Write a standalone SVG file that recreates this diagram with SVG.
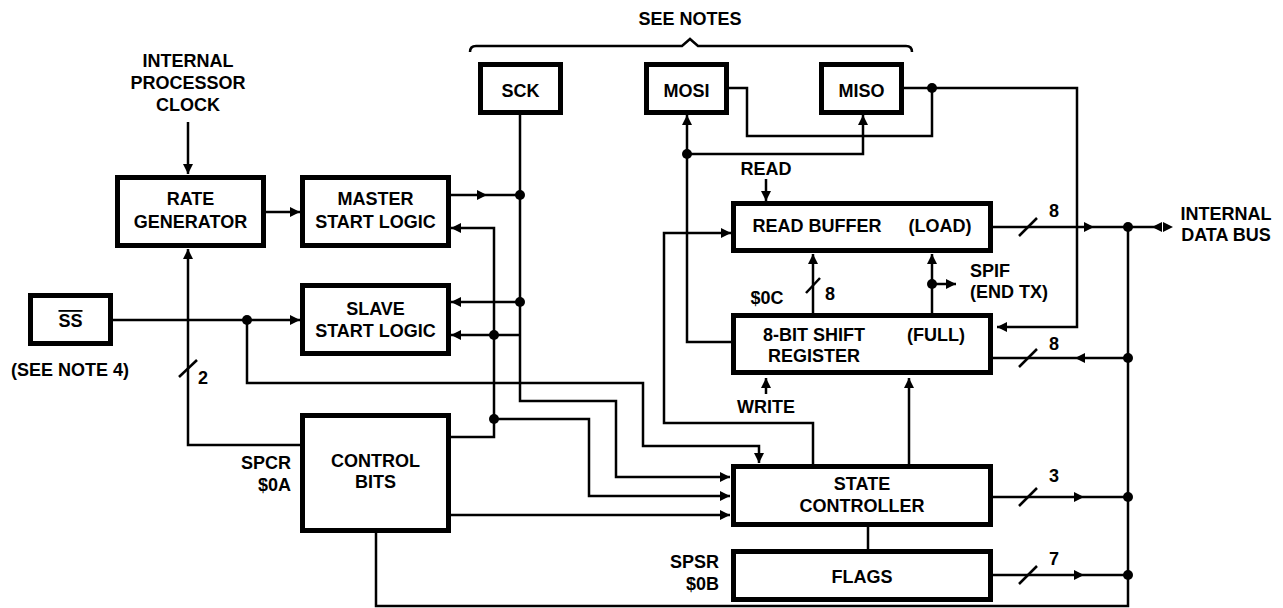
<svg xmlns="http://www.w3.org/2000/svg" width="1283" height="608" viewBox="0 0 1283 608">
<defs>
<marker id="a" viewBox="0 0 10 10" refX="10" refY="5" markerWidth="10" markerHeight="10" markerUnits="userSpaceOnUse" orient="auto"><path d="M0,0L10,5L0,10z" fill="#000"/></marker>
</defs>
<style>
.b{fill:#fff;stroke:#000;stroke-width:5}
.w{fill:none;stroke:#000;stroke-width:2.5}
.t{font-family:"Liberation Sans",Arial,Helvetica,sans-serif;font-weight:bold;font-size:18px;fill:#000}
.m{text-anchor:middle}
.e{text-anchor:end}
.d{fill:#000}
</style>
<rect width="1283" height="608" fill="#fff"/>
<g id="connectors">
<path class="w" d="M188,122V174" marker-end="url(#a)"/>
<path class="w" d="M266,212H300" marker-end="url(#a)"/>
<path class="w" d="M300,445H188V249" marker-end="url(#a)"/>
<path class="w" d="M179,377L197,360"/>
<path class="w" d="M113,320H300" marker-end="url(#a)"/>
<path class="w" d="M247,320V383H643V446H759V463" marker-end="url(#a)"/>
<path class="w" d="M520,115V401H616V477H730" marker-end="url(#a)"/>
<path class="w" d="M451,195H487" marker-end="url(#a)"/>
<path class="w" d="M487,195H520"/>
<path class="w" d="M520,302H451" marker-end="url(#a)"/>
<path class="w" d="M451,437H494V228H451" marker-end="url(#a)"/>
<path class="w" d="M520,335H451" marker-end="url(#a)"/>
<path class="w" d="M494,419H589V496H730" marker-end="url(#a)"/>
<path class="w" d="M451,515H730" marker-end="url(#a)"/>
<path class="w" d="M376,533V606H1128V227"/>
<path class="w" d="M993,227H1094" marker-end="url(#a)"/>
<path class="w" d="M1094,227H1162"/>
<path class="d" d="M1163,222L1173,227L1163,232z"/>
<path class="d" d="M1162,222L1152,227L1162,232z"/>
<path class="w" d="M1128,358H1075" marker-end="url(#a)"/>
<path class="w" d="M1075,358H993"/>
<path class="w" d="M993,497H1084" marker-end="url(#a)"/>
<path class="w" d="M1084,497H1128"/>
<path class="w" d="M993,575H1084" marker-end="url(#a)"/>
<path class="w" d="M1084,575H1128"/>
<path class="w" d="M1019,236L1037,218M1019,367L1037,349M1019,506L1037,488M1019,584L1037,566"/>
<path class="w" d="M729,88H747V136H932V88"/>
<path class="w" d="M904,88H1077V327H997" marker-end="url(#a)"/>
<path class="w" d="M731,342H687V115" marker-end="url(#a)"/>
<path class="w" d="M687,154H863V115" marker-end="url(#a)"/>
<path class="w" d="M813,464V423H664V233H731" marker-end="url(#a)"/>
<path class="w" d="M766,179V201" marker-end="url(#a)"/>
<path class="w" d="M766,394V378" marker-end="url(#a)"/>
<path class="w" d="M813,313V254" marker-end="url(#a)"/>
<path class="w" d="M806,293L820,278"/>
<path class="w" d="M932,313V254" marker-end="url(#a)"/>
<path class="w" d="M932,284H956" marker-end="url(#a)"/>
<path class="w" d="M909,464V378" marker-end="url(#a)"/>
<path class="w" d="M868,527V549"/>
<path class="w" d="M470,52Q470,46 476,46H682L690,39L698,46H906Q912,46 912,52"/>
<g class="d">
<circle cx="520" cy="195" r="5"/><circle cx="520" cy="302" r="5"/>
<circle cx="494" cy="335" r="5"/><circle cx="494" cy="419" r="5"/>
<circle cx="247" cy="320" r="5"/><circle cx="687" cy="154" r="5"/>
<circle cx="932" cy="88" r="5"/><circle cx="932" cy="284" r="5"/>
<circle cx="1128" cy="227" r="5"/><circle cx="1128" cy="358" r="5"/>
<circle cx="1128" cy="497" r="5"/><circle cx="1128" cy="575" r="5"/>
</g>
</g>
<g id="labels" class="t">
<text class="m" x="188" y="67">INTERNAL</text>
<text class="m" x="188" y="89">PROCESSOR</text>
<text class="m" x="188" y="111">CLOCK</text>
<text class="m" x="690" y="25">SEE NOTES</text>
<text class="m" x="766" y="175">READ</text>
<text class="m" x="767" y="304">$0C</text>
<text class="m" x="830" y="300">8</text>
<text x="970" y="277">SPIF</text>
<text x="970" y="298">(END TX)</text>
<text class="m" x="766" y="413">WRITE</text>
<text class="m" x="203" y="384">2</text>
<text class="m" x="70" y="376">(SEE NOTE 4)</text>
<text class="e" x="291" y="469">SPCR</text>
<text class="e" x="291" y="491">$0A</text>
<text class="e" x="719" y="568">SPSR</text>
<text class="e" x="719" y="590">$0B</text>
<text class="m" x="1226" y="220">INTERNAL</text>
<text class="m" x="1226" y="241">DATA BUS</text>
<text class="m" x="1054" y="217">8</text>
<text class="m" x="1054" y="350">8</text>
<text class="m" x="1054" y="482">3</text>
<text class="m" x="1054" y="565">7</text>
</g>
<g id="rate-generator"><rect class="b" x="117.5" y="177.5" width="146" height="68"/><text class="t m" x="190.5" y="205">RATE</text><text class="t m" x="190.5" y="228">GENERATOR</text></g>
<g id="master-start-logic"><rect class="b" x="302.5" y="177.5" width="146" height="68"/><text class="t m" x="375.5" y="205">MASTER</text><text class="t m" x="375.5" y="228">START LOGIC</text></g>
<g id="slave-start-logic"><rect class="b" x="302.5" y="285.5" width="146" height="68"/><text class="t m" x="375.5" y="315">SLAVE</text><text class="t m" x="375.5" y="337">START LOGIC</text></g>
<g id="control-bits"><rect class="b" x="302.5" y="415.5" width="146" height="115"/><text class="t m" x="375.5" y="467">CONTROL</text><text class="t m" x="375.5" y="488">BITS</text></g>
<g id="ss"><rect class="b" x="30.5" y="295.5" width="80" height="48"/><text class="t m" x="70.5" y="327" style="text-decoration:overline">SS</text></g>
<g id="sck"><rect class="b" x="480.5" y="64.5" width="80" height="48"/><text class="t m" x="520.5" y="97">SCK</text></g>
<g id="mosi"><rect class="b" x="646.5" y="64.5" width="80" height="48"/><text class="t m" x="686.5" y="97">MOSI</text></g>
<g id="miso"><rect class="b" x="821.5" y="64.5" width="80" height="48"/><text class="t m" x="861.5" y="97">MISO</text></g>
<g id="read-buffer"><rect class="b" x="733.5" y="203.5" width="257" height="47"/><text class="t m" x="817" y="232">READ BUFFER</text><text class="t m" x="940" y="232">(LOAD)</text></g>
<g id="shift-register"><rect class="b" x="733.5" y="315.5" width="257" height="57"/><text class="t m" x="814" y="341">8-BIT SHIFT</text><text class="t m" x="814" y="362">REGISTER</text><text class="t m" x="936" y="341">(FULL)</text></g>
<g id="state-controller"><rect class="b" x="733.5" y="466.5" width="257" height="58"/><text class="t m" x="862" y="490">STATE</text><text class="t m" x="862" y="512">CONTROLLER</text></g>
<g id="flags"><rect class="b" x="733.5" y="551.5" width="257" height="48"/><text class="t m" x="862" y="583">FLAGS</text></g>
</svg>
